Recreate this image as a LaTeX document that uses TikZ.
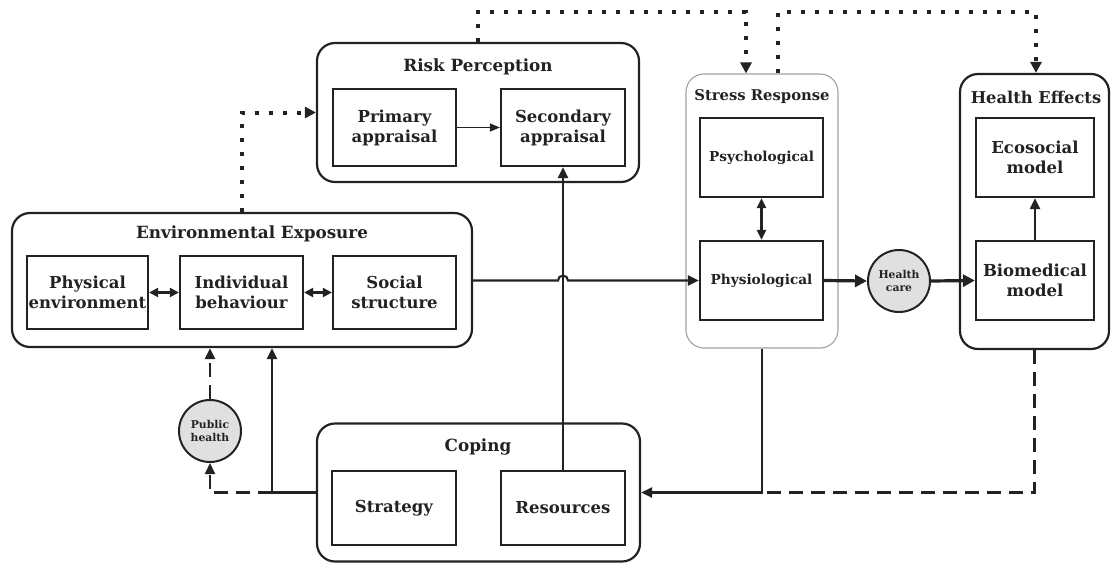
\documentclass[tikz,border=0pt]{standalone}
\usepackage{fontspec}
\setmainfont{DejaVu Serif}
\usetikzlibrary{arrows.meta}
\definecolor{ink}{HTML}{222222}
\definecolor{softgrey}{HTML}{E0E0E0}
\definecolor{rimgrey}{HTML}{A0A0A0}
\begin{document}
\begin{tikzpicture}[x=1pt,y=-1pt,
  every node/.style={text=ink},
  group/.style={draw=ink, line width=2.2pt, rounded corners=18pt, inner sep=0pt},
  lightgroup/.style={draw=rimgrey, line width=1.1pt, rounded corners=18pt, inner sep=0pt},
  grouptitle/.style={font=\fontsize{16.8}{20}\selectfont\bfseries, inner sep=0pt},
  item/.style={draw=ink, line width=2.2pt, inner sep=0pt, align=center,
    font=\fontsize{16.5}{20}\selectfont\bfseries},
  smallitem/.style={item, font=\fontsize{13.7}{17}\selectfont\bfseries},
  hub/.style={circle, draw=ink, fill=softgrey, line width=2pt, inner sep=0pt,
    minimum size=62pt, align=center, font=\fontsize{10.8}{13}\selectfont\bfseries},
  link/.style={draw=ink, line width=2.1pt},
  tip/.style={-{Triangle[length=11pt,width=10pt]}},
  twotip/.style={{Triangle[length=9pt,width=9pt]}-{Triangle[length=9pt,width=9pt]}},
  heavy/.style={line width=3.2pt, -{Triangle[length=12pt,width=12pt]}},
  dotline/.style={draw=ink, line width=4pt, dash pattern=on 4pt off 10pt},
  dashline/.style={draw=ink, line width=2.2pt, dash pattern=on 14pt off 8pt},
  dottip/.style={-{Triangle[length=11pt,width=11pt]}}
]
\useasboundingbox (0,0) rectangle (1111,563);

% ---------- group frames ----------
\node[group, minimum width=322pt, minimum height=139pt] (rp)  at (478,112.5) {};
\node[group, minimum width=460pt, minimum height=134pt] (env) at (242,280) {};
\node[lightgroup, minimum width=152pt, minimum height=274pt] (sr) at (762,211) {};
\node[group, minimum width=149pt, minimum height=275pt] (he)  at (1034.5,211.5) {};
\node[group, minimum width=323pt, minimum height=138pt] (cop) at (478.5,492.5) {};

% ---------- group titles ----------
\node[grouptitle] (rpt)  at (478,67)  {Risk Perception};
\node[grouptitle] (envt) at (252,234) {Environmental Exposure};
\node[grouptitle, font=\fontsize{14.8}{18}\selectfont\bfseries] (srt) at (762,97) {Stress Response};
\node[grouptitle, font=\fontsize{16.3}{19}\selectfont\bfseries] (het) at (1036,97) {Health Effects};
\node[grouptitle] (copt) at (478,447) {Coping};

% ---------- inner boxes ----------
\node[item, minimum width=123pt, minimum height=77pt] (prim) at (394.5,127.5) {Primary\\appraisal};
\node[item, minimum width=124pt, minimum height=77pt] (sec)  at (563,127.5)   {Secondary\\appraisal};

\node[item, minimum width=121pt, minimum height=73pt] (phys) at (87.5,292.5)  {Physical\\environment};
\node[item, minimum width=123pt, minimum height=73pt] (ind)  at (241.5,292.5) {Individual\\behaviour};
\node[item, minimum width=123pt, minimum height=73pt] (soc)  at (394.5,292.5) {Social\\structure};

\node[smallitem, minimum width=123pt, minimum height=79pt] (psy) at (761.5,157.5) {Psychological};
\node[smallitem, minimum width=123pt, minimum height=79pt] (phy) at (761.5,280.5) {Physiological};

\node[item, minimum width=118pt, minimum height=79pt] (eco) at (1035,157.5) {Ecosocial\\model};
\node[item, minimum width=118pt, minimum height=79pt] (bio) at (1035,280.5) {Biomedical\\model};

\node[item, minimum width=124pt, minimum height=74pt] (str) at (394,508)  {Strategy};
\node[item, minimum width=124pt, minimum height=74pt] (res) at (563,508)  {Resources};

% ---------- circular hubs ----------
\node[hub] (hc) at (899,281) {Health\\care};
\node[hub] (ph) at (210,431) {Public\\health};

% ---------- junction points ----------
\coordinate (hop) at (563,280.5);
\coordinate (jr)  at (sr.south |- cop.east);
\coordinate (jl)  at (272,492.5);
\coordinate (ta)  at (746,12);
\coordinate (tb)  at (778,12);
\coordinate (tc)  at (1036,12);

% ---------- solid connectors ----------
\draw[link, line width=1.4pt, -{Triangle[length=10pt,width=8pt]}] (prim.east) -- (sec.west);
\draw[link, twotip] (phys.east) -- (ind.west);
\draw[link, twotip] (ind.east) -- (soc.west);
\draw[link, {Triangle[length=10pt,width=9pt]}-{Triangle[length=10pt,width=9pt]}] (psy.south) -- (phy.north);
\draw[link, tip] (bio.north) -- (eco.south);
\draw[link, tip] (res.north) -- (sec.south);
\draw[link, tip] (env.east |- hop) -- ([xshift=-5pt]hop)
  arc[start angle=180, end angle=0, radius=5pt] -- (phy.west);
\draw[link, heavy] (phy.east) -- (hc.west);
\draw[link, heavy] (hc.east) -- (bio.west);
\draw[link, tip] (sr.south) |- (cop.east);
\draw[link] (cop.west) -- (jl);
\draw[link, tip] (jl) -- (jl |- env.south);

% ---------- dashed connectors ----------
\draw[dashline] (he.south) |- (jr);
\draw[dashline, tip] (jl) -| (ph.south);
\draw[dashline, tip] (ph.north) -- (ph.north |- env.south);

% ---------- dotted connectors ----------
\draw[dotline, dottip] (env.north) |- (rp.west);
\draw[dotline, dottip] (rp.north) |- (ta) -- (ta |- sr.north);
\draw[dotline, dottip] (tb |- sr.north) -- (tb) -- (tc) -- (tc |- he.north);
\end{tikzpicture}
\end{document}
